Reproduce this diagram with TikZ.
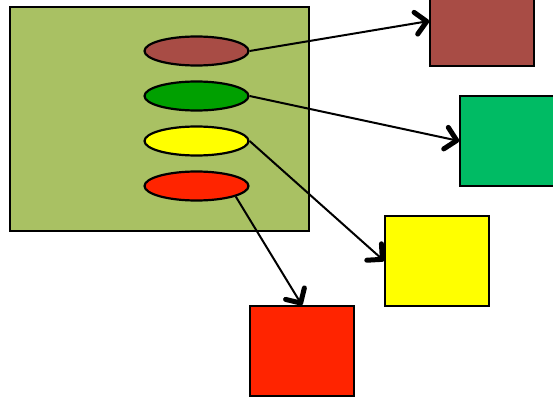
\documentclass[tikz,border=0pt]{standalone}
\usetikzlibrary{shapes.geometric,arrows.meta}
\definecolor{olive}{HTML}{A9C163}
\definecolor{brownc}{HTML}{A84C45}
\definecolor{greenc}{HTML}{00A000}
\definecolor{greenbox}{HTML}{00BB64}
\definecolor{yellowc}{HTML}{FFFF00}
\definecolor{redc}{HTML}{FF2400}
\begin{document}
\begin{tikzpicture}[x=1pt,y=-1pt,
  oval/.style={ellipse,draw=black,line width=2.2pt,minimum width=104pt,minimum height=29pt,inner sep=0pt},
  box/.style={rectangle,draw=black,line width=1.6pt,minimum width=104pt,minimum height=90pt,inner sep=0pt},
  conn/.style={draw=black,line width=2pt,-{Straight Barb[length=11pt,width=22pt,line width=5pt 0 0,round]}}]
\useasboundingbox (0,0) rectangle (553,398);
\node[rectangle,draw=black,line width=1.6pt,fill=olive,minimum width=299pt,minimum height=224pt,inner sep=0pt] (panel) at (159.5,119) {};
\node[oval,fill=brownc] (e1) at (196.5,51) {};
\node[oval,fill=greenc] (e2) at (196.5,96) {};
\node[oval,fill=yellowc] (e3) at (196.5,141) {};
\node[oval,fill=redc] (e4) at (196.5,186) {};
\node[box,fill=brownc] (b1) at (482,21) {};
\node[box,fill=greenbox] (b2) at (512,141) {};
\node[box,fill=yellowc] (b3) at (437,261) {};
\node[box,fill=redc] (b4) at (302,351) {};
\draw[conn] (e1.east) -- (b1.west);
\draw[conn] (e2.east) -- (b2.west);
\draw[conn] (e3.east) -- (b3.west);
\draw[conn] (e4.-15) -- (b4.north);
\end{tikzpicture}
\end{document}
